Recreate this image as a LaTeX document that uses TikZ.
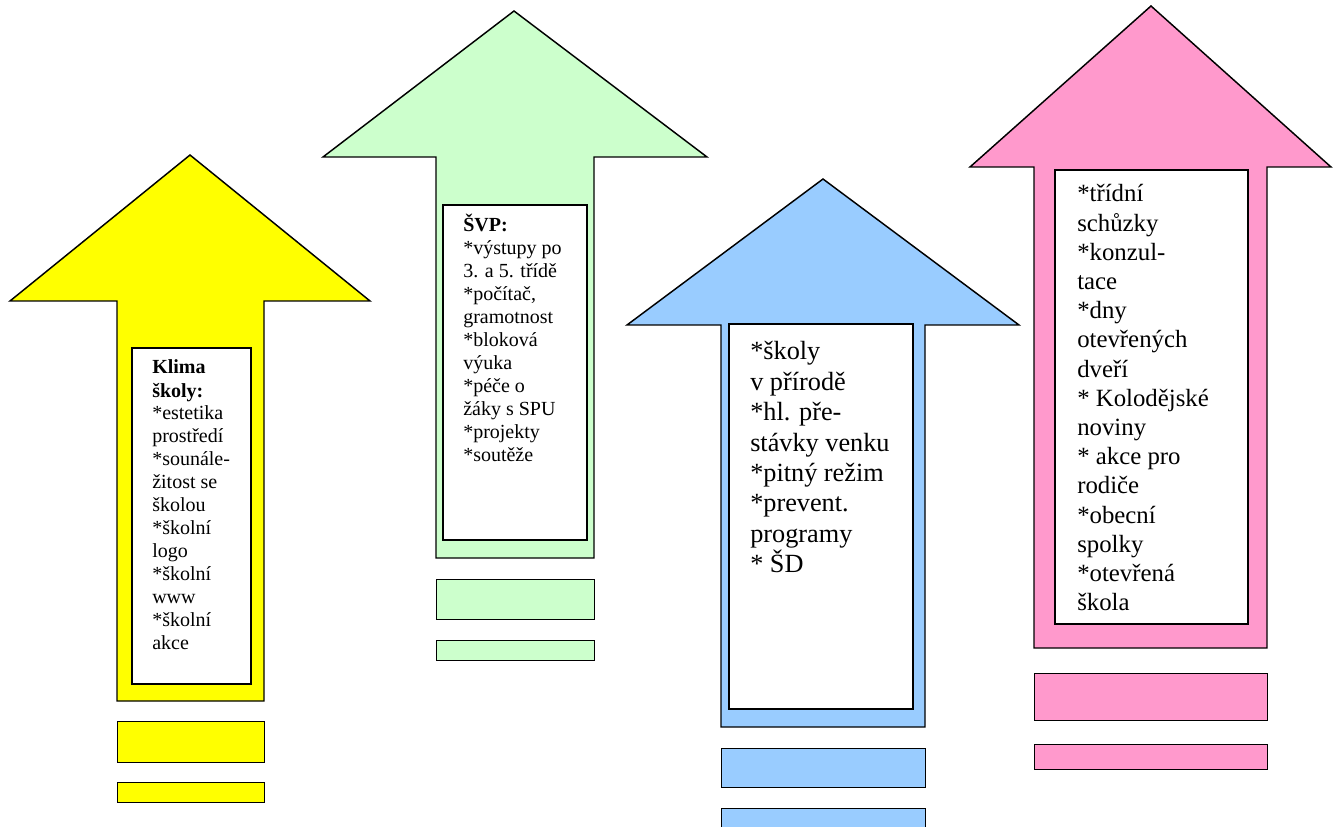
\documentclass[tikz,border=0pt]{standalone}
\usepackage{fontspec}
\setmainfont{Liberation Serif}
\definecolor{cyellow}{HTML}{FFFF00}
\definecolor{cgreen}{HTML}{CCFFCC}
\definecolor{cblue}{HTML}{99CCFF}
\definecolor{cpink}{HTML}{FF99CC}
\tikzset{
  arrowshape/.style={draw=black, line width=1.1pt, line join=miter},
  innerbox/.style={draw=black, fill=white, line width=1.5pt},
  bar/.style={draw=black, line width=1.1pt},
  txt/.style={inner sep=0pt, anchor=base west, text=black}
}
\newcommand{\smalllines}[1]{\vtop{\fontsize{15pt}{17.25pt}\selectfont #1}}
\begin{document}
\begin{tikzpicture}[x=0.75pt, y=-0.75pt]
\useasboundingbox (0,0) rectangle (1340,827);
\clip (0,0) rectangle (1340,827);
\fill[white] (0,0) rectangle (1340,827);

% ---------- yellow arrow ----------
\draw[arrowshape, fill=cyellow] (117,701) -- (117,301) -- (10,301) -- (190,155) -- (370,301) -- (264,301) -- (264,701) -- cycle;
\node[innerbox, minimum width=119*0.75pt, minimum height=336*0.75pt, anchor=north west, inner sep=0pt] (yin) at (131,347) {};
\node[bar, fill=cyellow, minimum width=147*0.75pt, minimum height=41*0.75pt, anchor=north west, inner sep=0pt] (yb1) at (117,721) {};
\node[bar, fill=cyellow, minimum width=147*0.75pt, minimum height=20*0.75pt, anchor=north west, inner sep=0pt] (yb2) at (117,782) {};
\node[txt] (ytxt) at (152,374) {\smalllines{\hbox{\bfseries Klima}\hbox{\bfseries školy:}\hbox{*estetika}\hbox{prostředí}\hbox{*sounále-}\hbox{žitost se}\hbox{školou}\hbox{*školní}\hbox{logo}\hbox{*školní}\hbox{www}\hbox{*školní}\hbox{akce}}};

% ---------- green arrow ----------
\draw[arrowshape, fill=cgreen] (436,558) -- (436,157) -- (323,157) -- (514,11) -- (707,157) -- (594,157) -- (594,558) -- cycle;
\node[innerbox, minimum width=144*0.75pt, minimum height=335*0.75pt, anchor=north west, inner sep=0pt] (gin) at (442,204) {};
\node[bar, fill=cgreen, minimum width=158*0.75pt, minimum height=40*0.75pt, anchor=north west, inner sep=0pt] (gb1) at (436,579) {};
\node[bar, fill=cgreen, minimum width=158*0.75pt, minimum height=20*0.75pt, anchor=north west, inner sep=0pt] (gb2) at (436,640) {};
\node[txt] (gtxt) at (463,232) {\smalllines{\hbox{\bfseries ŠVP:}\hbox{*výstupy po}\hbox{3. a 5. třídě}\hbox{*počítač,}\hbox{gramotnost}\hbox{*bloková}\hbox{výuka}\hbox{*péče o}\hbox{žáky s SPU}\hbox{*projekty}\hbox{*soutěže}}};

% ---------- blue arrow ----------
\draw[arrowshape, fill=cblue] (721,727) -- (721,325) -- (627,325) -- (823,179) -- (1019,325) -- (925,325) -- (925,727) -- cycle;
\node[innerbox, minimum width=184*0.75pt, minimum height=385*0.75pt, anchor=north west, inner sep=0pt] (bin) at (728,323) {};
\node[bar, fill=cblue, minimum width=204*0.75pt, minimum height=39*0.75pt, anchor=north west, inner sep=0pt] (bb1) at (721,748) {};
\node[bar, fill=cblue, minimum width=204*0.75pt, minimum height=50*0.75pt, anchor=north west, inner sep=0pt] (bb2) at (721,808) {};
\node[txt] (btxt) at (750,360) {\vtop{\fontsize{19.7pt}{22.8pt}\selectfont \hbox{*školy}\hbox{v přírodě}\hbox{*hl. pře-}\hbox{stávky venku}\hbox{*pitný režim}\hbox{*prevent.}\hbox{programy}\hbox{* ŠD}}};

% ---------- pink arrow ----------
\draw[arrowshape, fill=cpink] (1034,648) -- (1034,167) -- (970,167) -- (1151,6) -- (1331,167) -- (1267,167) -- (1267,648) -- cycle;
\node[innerbox, minimum width=193*0.75pt, minimum height=454*0.75pt, anchor=north west, inner sep=0pt] (pin) at (1054,169) {};
\node[bar, fill=cpink, minimum width=233*0.75pt, minimum height=47*0.75pt, anchor=north west, inner sep=0pt] (pb1) at (1034,673) {};
\node[bar, fill=cpink, minimum width=233*0.75pt, minimum height=25*0.75pt, anchor=north west, inner sep=0pt] (pb2) at (1034,744) {};
\node[txt] (ptxt) at (1077,202) {\vtop{\fontsize{18.6pt}{21.9pt}\selectfont \hbox{*třídní}\hbox{schůzky}\hbox{*konzul-}\hbox{tace}\hbox{*dny}\hbox{otevřených}\hbox{dveří}\hbox{* Kolodějské}\hbox{noviny}\hbox{* akce pro}\hbox{rodiče}\hbox{*obecní}\hbox{spolky}\hbox{*otevřená}\hbox{škola}}};
\end{tikzpicture}
\end{document}
